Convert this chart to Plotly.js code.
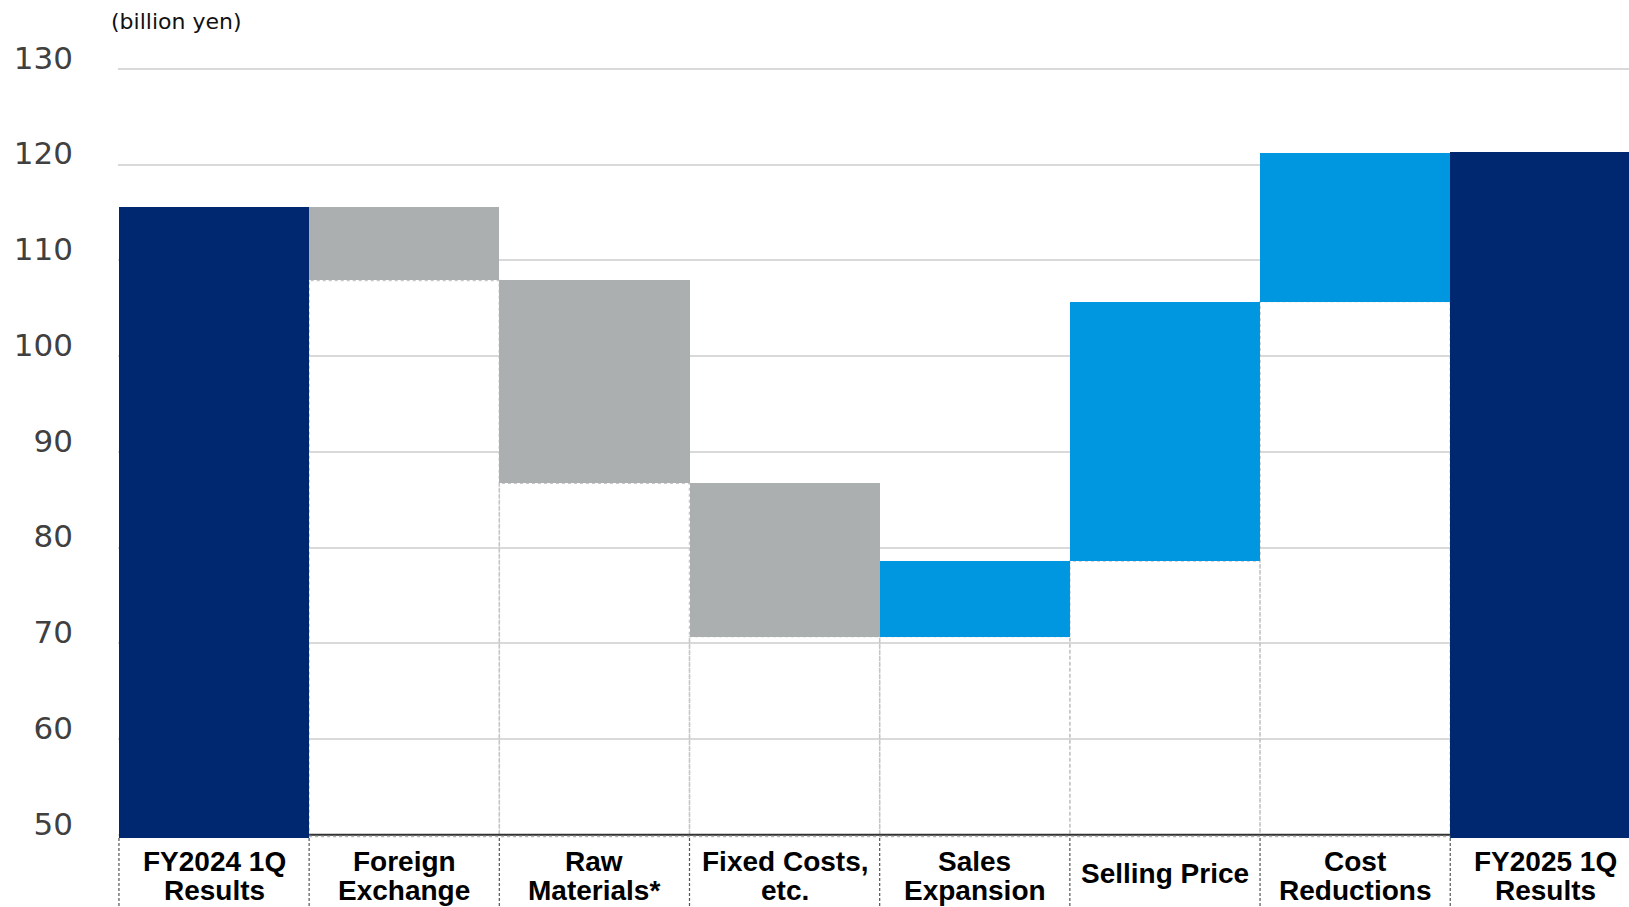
<!DOCTYPE html>
<html><head><meta charset="utf-8">
<script src="https://cdn.plot.ly/plotly-3.0.1.min.js"></script>
<style>html,body{margin:0;padding:0;background:#fff;overflow:hidden}#chart{width:1629px;height:907px}</style>
</head><body><div id="chart"></div>
<script>
// ---- data ----
const categories = ["FY2024 1Q Results","Foreign Exchange","Raw Materials*","Fixed Costs, etc.","Sales Expansion","Selling Price","Cost Reductions","FY2025 1Q Results"];
const labelLine1 = ["FY2024 1Q","Foreign","Raw","Fixed Costs,","Sales","Selling Price","Cost","FY2025 1Q"];
const labelLine2 = ["Results","Exchange","Materials*","etc.","Expansion","","Reductions","Results"];
const startValue = 115.6;
const changes = [-7.7, -21.2, -16.0, 7.9, 27.1, 15.5];
const endValue = 121.3;
const yTicks = [50,60,70,80,90,100,110,120,130];
const unitLabel = "(billion yen)";

// ---- styles ----
const AXIS_MIN = 49.65, AXIS_MAX = 130.2, FLOOR = 50;
const NAVY = '#002870', GRAY = '#abafb0', BLUE = '#0096e0';
const TOP = 67, PLOT_H = 771;
const px2paper = p => (TOP + PLOT_H - p) / PLOT_H;

let level = startValue;
const bases = [AXIS_MIN], heights = [startValue - AXIS_MIN], colors = [NAVY];
const floors = [];
changes.forEach(d => {
  const next = level + d;
  const lo = Math.min(level, next);
  bases.push(lo); heights.push(Math.abs(d)); colors.push(d < 0 ? GRAY : BLUE);
  floors.push(lo);
  level = next;
});
bases.push(AXIS_MIN); heights.push(endValue - AXIS_MIN); colors.push(NAVY);

const trace = {
  type: 'bar', x: categories, y: heights, base: bases,
  marker: {color: colors, line: {width: 0}},
  hoverinfo: 'skip', showlegend: false
};

const shapes = [];
floors.forEach((f, k) => {
  const i = k + 1;
  shapes.push({type:'rect', xref:'x', yref:'y', x0:i-0.5, x1:i+0.5, y0:FLOOR, y1:f,
    line:{color:'#c6c6c6', width:1.5, dash:'dot'}, fillcolor:'rgba(0,0,0,0)', layer:'between'});
});
shapes.push({type:'line', xref:'x', yref:'y', x0:0.5, x1:changes.length+0.5, y0:FLOOR, y1:FLOOR,
  line:{color:'#333', width:2}, layer:'above'});
shapes.push({type:'line', xref:'x', yref:'y', x0:0.5, x1:changes.length+0.5, y0:49.8, y1:49.8,
  line:{color:'#b5b5b5', width:1.5, dash:'dot'}, layer:'above'});
for (let i = 0; i < categories.length; i++) {
  shapes.push({type:'line', xref:'x', yref:'paper', x0:i-0.5, x1:i-0.5, y0:0, y1:-0.12,
    line:{color:'#555', width:1.2, dash:'3px,2px'}, layer:'above'});
}

const lblFont = {family:'"Liberation Sans", Arial, sans-serif', size:28, color:'#000', weight:700};
const annotations = [{
  xref:'paper', yref:'paper', x:-0.006, y:px2paper(22), xanchor:'left', yanchor:'middle',
  text: unitLabel, showarrow:false, font:{family:'"DejaVu Sans", Verdana, sans-serif', size:22, color:'#111'}
}];
categories.forEach((c, i) => {
  if (labelLine2[i]) {
    annotations.push({xref:'x', yref:'paper', x:i, y:px2paper(862), xanchor:'center', yanchor:'middle',
      text: labelLine1[i], showarrow:false, font: lblFont});
    annotations.push({xref:'x', yref:'paper', x:i, y:px2paper(890), xanchor:'center', yanchor:'middle',
      text: labelLine2[i], showarrow:false, font: lblFont});
  } else {
    annotations.push({xref:'x', yref:'paper', x:i, y:px2paper(873), xanchor:'center', yanchor:'middle',
      text: labelLine1[i], showarrow:false, font: lblFont});
  }
});

const layout = {
  width: 1629, height: 907,
  margin: {l:118, r:0, t:TOP, b:907 - TOP - PLOT_H, pad:0},
  paper_bgcolor:'#fff', plot_bgcolor:'#fff',
  bargap: 0, showlegend:false,
  xaxis: {type:'category', range:[-0.505, 7.44], showticklabels:false, showgrid:false, zeroline:false, showline:false, ticks:''},
  yaxis: {range:[AXIS_MIN, AXIS_MAX], tickvals:yTicks, ticktext:yTicks.map(String), showgrid:true, gridcolor:'#d9d9d9', gridwidth:2,
    zeroline:false, showline:false, ticks:'', ticklabelstandoff:44, ticklabelshift:-11,
    tickfont:{family:'"DejaVu Sans", Verdana, sans-serif', size:31, color:'#404040'}},
  shapes, annotations
};

Plotly.newPlot('chart', [trace], layout, {staticPlot:true, displayModeBar:false});
</script>
</body></html>
